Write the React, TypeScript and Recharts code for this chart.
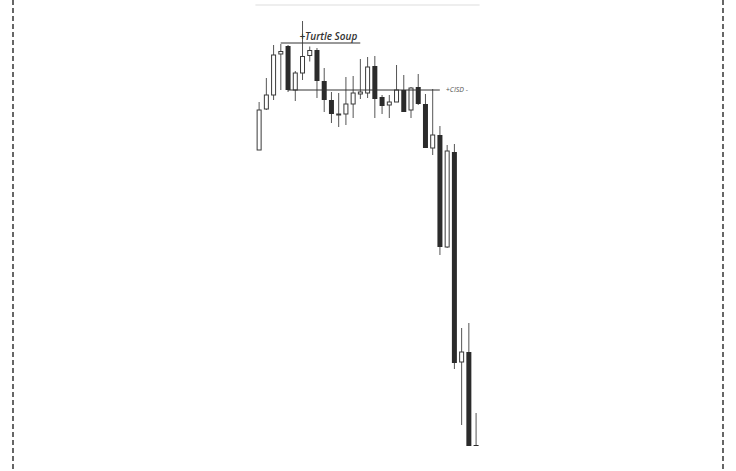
import { ComposedChart, Bar, XAxis, YAxis, ReferenceLine } from "recharts";

// candle index (left to right)
const candleIds = [
  1, 2, 3, 4, 5, 6, 7, 8, 9, 10, 11, 12, 13, 14, 15, 16, 17, 18, 19, 20, 21,
  22, 23, 24, 25, 26, 27, 28, 29, 30, 31,
];

// prices (arbitrary units)
const opens = [
  300, 341, 355, 396, 404, 360, 377, 394.5, 400, 369, 350, 335, 336, 346, 356,
  357, 384, 353, 345, 348, 360, 340, 363, 346, 302, 315, 203, 298, 88, 98, 5,
];
const closes = [
  340, 355, 395, 398.5, 360, 377, 393.5, 399.5, 369, 350, 336, 336, 346, 357,
  358, 383, 351, 344, 348, 360, 338, 362, 346, 302, 315, 203, 299, 87, 98, 4, 4,
];
const highs = [
  348, 372, 405, 406, 405, 379, 429, 403.5, 402, 382, 358, 357, 373, 374, 391,
  393, 394, 355, 355, 385, 375, 363, 376, 356, 361, 324, 305, 306, 122, 127, 37,
];
const lows = [
  300, 340, 350, 360, 358, 349, 370, 388.5, 352, 338, 327, 323, 325, 332, 351,
  352, 332, 336, 332, 348, 338, 332, 345, 302, 295, 195, 202, 81, 25, 4, 4,
];

const turtleSoupLevel = 407;
const cisdLevel = 360;

const data = candleIds.map((id, k) => ({
  id,
  open: opens[k],
  close: closes[k],
  high: highs[k],
  low: lows[k],
  range: [lows[k], highs[k]],
}));

const Candle = (props: any) => {
  const { x, y, width, height, payload } = props;
  const { open, close, high, low } = payload;
  const top = Math.min(y, y + height);
  const span = Math.abs(height);
  const toY = (v: number) =>
    high === low ? top : top + ((high - v) / (high - low)) * span;
  const cx = x + width / 2;
  const bodyTop = toY(Math.max(open, close));
  const bodyBottom = toY(Math.min(open, close));
  const bodyH = Math.max(bodyBottom - bodyTop, 1);
  const up = close > open;
  return (
    <g>
      <line x1={cx} x2={cx} y1={top} y2={top + span} stroke="#555" strokeWidth={1} />
      {up ? (
        <rect x={cx - 2} y={bodyTop} width={4} height={bodyH} fill="#fff" stroke="#3a3a3a" strokeWidth={1} />
      ) : (
        <rect x={cx - 2.5} y={bodyTop} width={5} height={bodyH} fill="#2b2b2b" />
      )}
    </g>
  );
};

const App = () => {
  return (
    <div style={{ position: "absolute", left: 0, top: 0, width: 736, height: 471, background: "#fff" }}>
      <ComposedChart
        width={736}
        height={471}
        data={data}
        margin={{ top: 0, right: 256.4, left: 255.4, bottom: 21 }}
      >
        <XAxis dataKey="id" type="category" hide />
        <YAxis type="number" domain={[0, 450]} hide allowDataOverflow />
        <ReferenceLine y={445} stroke="#eeeeee" strokeWidth={2} />
        <ReferenceLine
          segment={[
            { x: 4, y: turtleSoupLevel },
            { x: 15, y: turtleSoupLevel },
          ]}
          stroke="#333"
          strokeWidth={1}
          label={{
            value: "+Turtle Soup",
            position: "insideBottomRight",
            offset: 3,
            fill: "#333",
            fontSize: 10,
            fontStyle: "italic",
            fontWeight: 600,
            fontFamily: "Open Sans",
          }}
        />
        <ReferenceLine
          segment={[
            { x: 5, y: cisdLevel },
            { x: 26, y: cisdLevel },
          ]}
          stroke="#333"
          strokeWidth={1}
          label={{
            value: "+CISD -",
            position: "right",
            offset: 6,
            fill: "#555",
            fontSize: 7,
            fontStyle: "italic",
            fontFamily: "Open Sans",
          }}
        />
        <Bar dataKey="range" shape={Candle} isAnimationActive={false} />
      </ComposedChart>
      <svg
        width={736}
        height={471}
        style={{ position: "absolute", left: 0, top: 0, pointerEvents: "none" }}
      >
        <line x1={13} x2={13} y1={0} y2={471} stroke="#666" strokeWidth={2} strokeDasharray="5 3" />
        <line x1={723} x2={723} y1={0} y2={471} stroke="#666" strokeWidth={2} strokeDasharray="5 3" />
      </svg>
    </div>
  );
};

export default App;
